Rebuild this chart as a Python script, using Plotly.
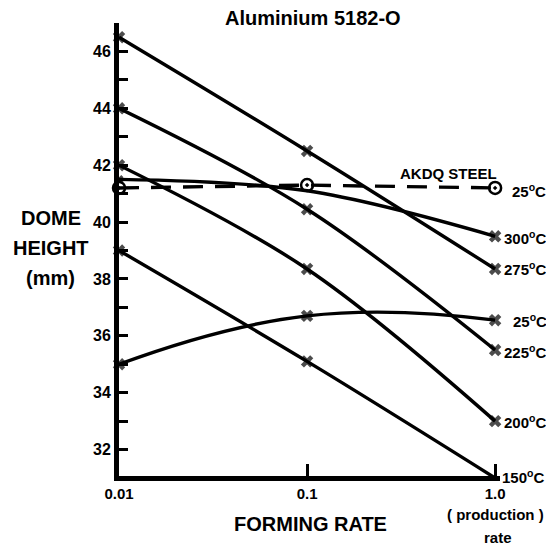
import plotly.graph_objects as go

# ---- data ----
rates = [0.01, 0.1, 1.0]
h150 = [39.0, 35.1, 31.0]
h200 = [42.0, 38.35, 33.0]
h225 = [44.0, 40.45, 35.5]
h275 = [46.5, 42.5, 38.35]
h300 = [41.5, 41.1, 39.5]
h25 = [35.0, 36.7, 36.55]
steel25 = [41.2, 41.3, 41.2]

series_names = ["150", "200", "225", "275", "300", "25"]
series_vals = [h150, h200, h225, h275, h300, h25]
steel_label = "25"

y_ticks = [32, 34, 36, 38, 40, 42, 44, 46]
y_minor = [33, 35, 37, 39, 41, 43, 45]
x_ticks = [0.01, 0.1, 1.0]
x_ticktext = ["0.01", "0.1", "1.0"]

Y_MIN, Y_MAX = 31.07, 47

FONT = "Liberation Sans, Arial, sans-serif"
fig = go.Figure()

for name, vals in zip(series_names, series_vals):
    sizes = [11, 11, 11]
    smooth = 1.0
    if name == "300":
        sizes = [8, 0, 11]
    if name == "25":
        smooth = 1.3
    fig.add_trace(go.Scatter(
        x=rates, y=vals, mode="lines+markers",
        line=dict(color="black", width=3.4, shape="spline", smoothing=smooth),
        marker=dict(symbol="x", size=sizes, color="black",
                    line=dict(color="black", width=0)),
        cliponaxis=False, showlegend=False, name=name + "°C"))

fig.add_trace(go.Scatter(
    x=rates, y=steel25, mode="lines+markers",
    line=dict(color="black", width=3.4, dash="20px,12px"),
    marker=dict(symbol="circle-open-dot", size=12, color="black",
                line=dict(color="black", width=2.5)),
    cliponaxis=False, showlegend=False, name="AKDQ steel"))

ann = []
shifts = {"150": (5, 0), "200": (7, 0), "225": (7, -1), "275": (7, 0),
          "300": (7, -1), "25": (16, 0)}
for name, vals in zip(series_names, series_vals):
    xs, ys = shifts[name]
    ann.append(dict(x=0, y=max(vals[-1], Y_MIN), xref="x", yref="y", xanchor="left",
                    yanchor="middle", xshift=xs, yshift=ys, showarrow=False,
                    text=name + "<sup>o</sup>C",
                    font=dict(family=FONT, size=15, color="black", weight="bold")))
ann.append(dict(x=0, y=steel25[-1], xref="x", yref="y", xanchor="left",
                yanchor="middle", xshift=15, yshift=-3, showarrow=False,
                text=steel_label + "<sup>o</sup>C",
                font=dict(family=FONT, size=15, color="black", weight="bold")))
ann.append(dict(x=-0.248, y=41.72, xref="x", yref="y", showarrow=False,
                xanchor="center", text="AKDQ STEEL",
                font=dict(family=FONT, size=15, color="black", weight="bold")))
ann.append(dict(x=0.51, y=1.012, xref="paper", yref="paper", showarrow=False,
                text="Aluminium 5182-O", xanchor="center", yanchor="middle",
                font=dict(family=FONT, size=20, color="black", weight="bold")))
for txt, yp in [("DOME", 0.5694), ("HEIGHT", 0.5033), ("(mm)", 0.4372)]:
    ann.append(dict(x=-0.1796, y=yp, xref="paper", yref="paper", showarrow=False,
                    text=txt, xanchor="center", yanchor="middle",
                    font=dict(family=FONT, size=20, color="black", weight="bold")))
ann.append(dict(x=0.502, y=-0.1068, xref="paper", yref="paper", showarrow=False,
                text="FORMING RATE", xanchor="center", yanchor="middle",
                font=dict(family=FONT, size=20, color="black", weight="bold")))
ann.append(dict(x=0.987, y=-0.0848, xref="paper", yref="paper", showarrow=False,
                text="( production )", xanchor="center", yanchor="middle",
                font=dict(family=FONT, size=15, color="black", weight="bold")))
ann.append(dict(x=0.994, y=-0.1355, xref="paper", yref="paper", showarrow=False,
                text="rate", xanchor="center", yanchor="middle",
                font=dict(family=FONT, size=15, color="black", weight="bold")))

fig.update_layout(
    width=546, height=548,
    margin=dict(l=118.5, r=46, t=22.5, b=71.5),
    paper_bgcolor="white", plot_bgcolor="white",
    annotations=ann,
    font=dict(family=FONT, color="black"),
    xaxis=dict(type="log", range=[-2, 0.026], tickvals=x_ticks,
               ticktext=x_ticktext, ticks="inside", ticklen=12, tickwidth=3,
               tickcolor="black", showline=True, linewidth=5, linecolor="black",
               showgrid=False, zeroline=False, automargin=False,
               tickfont=dict(family=FONT, size=15, color="black", weight="bold")),
    yaxis=dict(range=[Y_MIN, Y_MAX], tickvals=y_ticks, ticks="inside", ticklen=9,
               tickwidth=3, tickcolor="black", showline=True, linewidth=5,
               linecolor="black", showgrid=False, zeroline=False, automargin=False,
               minor=dict(tickvals=y_minor, ticks="inside", ticklen=9,
                          tickwidth=3, tickcolor="black", showgrid=False),
               tickfont=dict(family=FONT, size=16, color="black", weight="bold")),
)

fig.write_html("out.html", config={"displayModeBar": False},
               post_script="document.body.style.margin='0';")
